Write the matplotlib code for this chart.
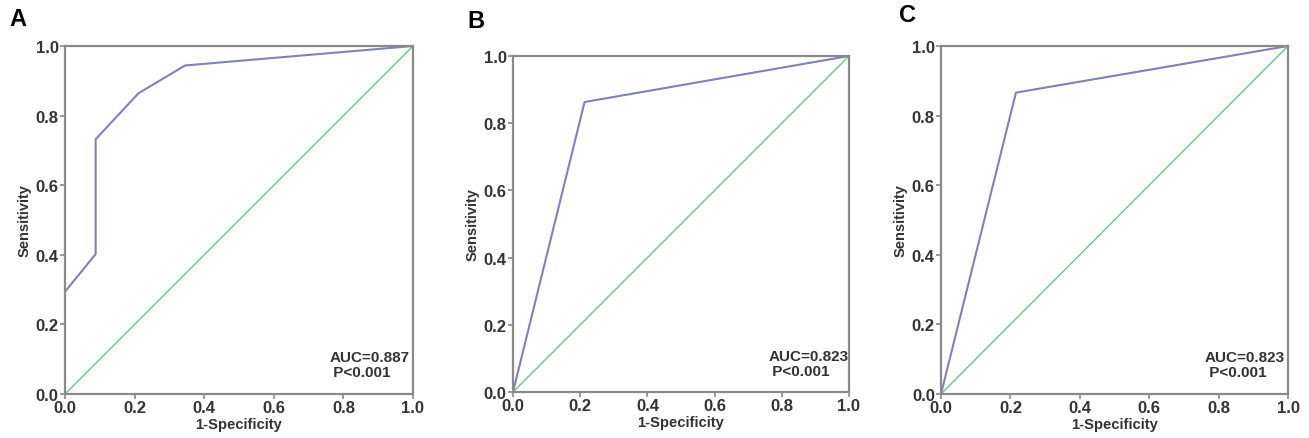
import matplotlib
matplotlib.use("Agg")
import matplotlib.pyplot as plt

plt.rcParams['font.family'] = ['Liberation Sans', 'DejaVu Sans']

panels = ["A", "B", "C"]
fpr_A = [0.0, 0.088, 0.088, 0.211, 0.345, 1.0]
tpr_A = [0.294, 0.402, 0.732, 0.864, 0.944, 1.0]
fpr_B = [0.0, 0.213, 1.0]
tpr_B = [0.0, 0.863, 1.0]
fpr_C = [0.0, 0.216, 1.0]
tpr_C = [0.0, 0.866, 1.0]
auc_texts = ["AUC=0.887\n P<0.001", "AUC=0.823\n P<0.001", "AUC=0.823\n P<0.001"]
ticks = [0.0, 0.2, 0.4, 0.6, 0.8, 1.0]
tick_labels = ["0.0", "0.2", "0.4", "0.6", "0.8", "1.0"]

W, H = 1309, 439
fig = plt.figure(figsize=(W / 100, H / 100), dpi=100)

# pixel boxes: left, top, right, bottom
boxes = [(65, 47, 413, 395), (513, 57, 849, 393), (941, 47, 1288, 395)]
label_pos = [(18, 20), (476, 21), (907, 15)]
curves = [(fpr_A, tpr_A), (fpr_B, tpr_B), (fpr_C, tpr_C)]

roc_color = "#7f82b8"
diag_color = "#7cc68c"
frame_color = "#8a8a8a"
text_color = "#333333"

for i, (l, t, r, b) in enumerate(boxes):
    ax = fig.add_axes([l / W, 1 - b / H, (r - l) / W, (b - t) / H])
    fx, ty = curves[i]
    ax.plot([0, 1], [0, 1], color=diag_color, lw=1.1)
    ax.plot(fx, ty, color=roc_color, lw=1.5)
    ax.set_xlim(0, 1)
    ax.set_ylim(0, 1)
    ax.set_xticks(ticks)
    ax.set_xticklabels(tick_labels)
    ax.set_yticks(ticks)
    ax.set_yticklabels(tick_labels)
    for s in ax.spines.values():
        s.set_color(frame_color)
        s.set_linewidth(1.6)
    ax.tick_params(direction="out", length=3.5, width=1.2, color=frame_color,
                   labelsize=12, labelcolor=text_color, pad=1)
    for lab in ax.get_xticklabels() + ax.get_yticklabels():
        lab.set_fontweight("bold")
    ax.set_xlabel("1-Specificity", fontsize=10.6, fontweight="bold", color=text_color, labelpad=1)
    ax.set_ylabel("Sensitivity", fontsize=10.5, fontweight="bold", color=text_color, labelpad=3)
    ax.text(0.76, 0.043, auc_texts[i], transform=ax.transAxes, fontsize=11,
            fontweight="bold", color=text_color, ha="left", va="bottom", linespacing=1.05)
    lx, ly = label_pos[i]
    fig.text(lx / W, 1 - ly / H, panels[i], fontsize=17, fontweight="bold",
             color="black", ha="center", va="center")

fig.savefig("out.png", dpi=100, facecolor="white")
